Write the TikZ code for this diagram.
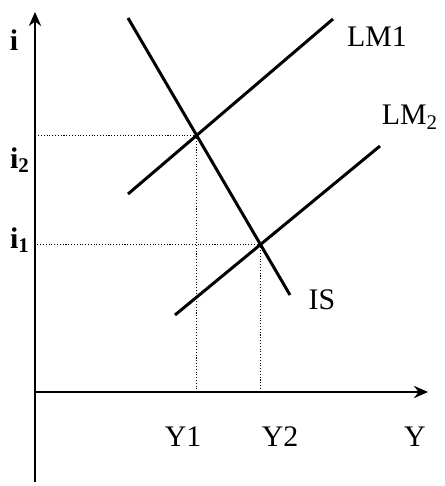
\documentclass[tikz,border=0pt]{standalone}
\usepackage{fontspec}
\setmainfont{Liberation Serif}
\usetikzlibrary{arrows.meta,calc,intersections}

\begin{document}
\begin{tikzpicture}[x=0.02cm,y=-0.02cm,>={Stealth[length=8pt,width=7pt]},
  axis/.style={line width=1.1pt},
  curve/.style={line width=1.7pt},
  guide/.style={densely dotted,line width=0.6pt},
  lab/.style={font=\fontsize{17}{20}\selectfont}]
  \useasboundingbox (0,0) rectangle (444,486);
  % axes
  \coordinate (O) at (35,392);
  \coordinate (Itop) at (35,12);
  \coordinate (Ibot) at (35,482);
  \coordinate (Yend) at (428,392);
  \draw[->,axis] (Ibot) -- (Itop);
  \draw[->,axis] (O) -- (Yend);
  % curves
  \draw[curve,name path=is] (128,18) -- (290,295);
  \draw[curve,name path=lmone] (128,194) -- (333,19);
  \draw[curve,name path=lmtwo] (175,315) -- (380,146);
  \path[name intersections={of=is and lmone,by=E1}];
  \path[name intersections={of=is and lmtwo,by=E2}];
  % guides
  \draw[guide] (E1) -- (O |- E1);
  \draw[guide] (E1) -- (E1 |- O);
  \draw[guide] (E2) -- (O |- E2);
  \draw[guide] (E2) -- (E2 |- O);
  % labels
  \node[lab,font=\fontsize{17}{20}\selectfont\bfseries] (i) at (14,40) {i};
  \node[lab,font=\fontsize{17}{20}\selectfont\bfseries] (i2) at (20,160) {i\textsubscript{2}};
  \node[lab,font=\fontsize{17}{20}\selectfont\bfseries] (i1) at (20,240) {i\textsubscript{1}};
  \node[lab] (y1) at (183,437) {Y1};
  \node[lab] (y2) at (280,437) {Y2};
  \node[lab] (y) at (415,437) {Y};
  \node[lab] (is) at (322,300) {IS};
  \node[lab] (lm1) at (377,37) {LM1};
  \node[lab] (lm2) at (410,117) {LM\textsubscript{2}};
\end{tikzpicture}
\end{document}
